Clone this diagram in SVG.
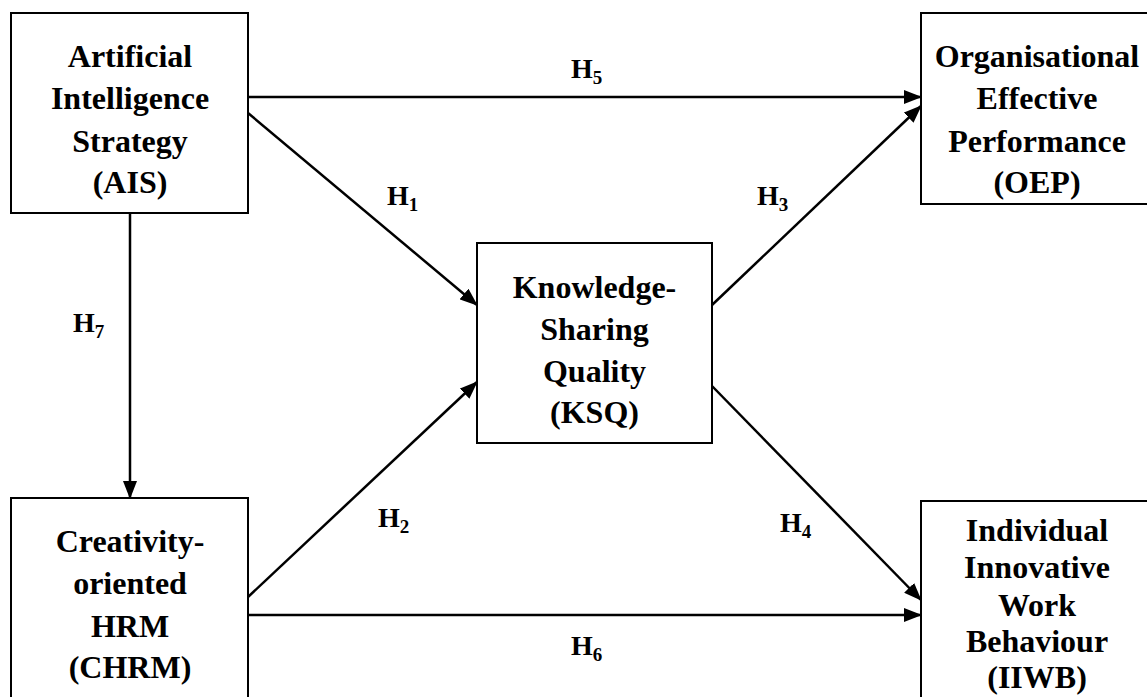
<svg xmlns="http://www.w3.org/2000/svg" width="1147" height="697" viewBox="0 0 1147 697">
  <style>
    .box { fill: #fff; stroke: #000; stroke-width: 2; }
    .lbl { font-weight: 700; font-size: 32px; fill: #000; text-anchor: middle; }
    .hyp { font-weight: 700; font-size: 28px; fill: #000; }
    .sub { font-size: 19px; }
    .edge { stroke: #000; stroke-width: 2.5; fill: none; marker-end: url(#arrow); }
  </style>
  <defs>
    <marker id="arrow" markerUnits="userSpaceOnUse" markerWidth="18" markerHeight="14" refX="17" refY="7" orient="auto">
      <path d="M0,0 L18,7 L0,14 Z" fill="#000"/>
    </marker>
  </defs>
  <rect width="1147" height="697" fill="#fff"/>

  <!-- connectors -->
  <g id="connectors">
    <line class="edge" x1="248" y1="97" x2="921" y2="97"/>
    <line class="edge" x1="248" y1="113" x2="477" y2="305"/>
    <line class="edge" x1="248" y1="597" x2="477" y2="382"/>
    <line class="edge" x1="712" y1="305" x2="921" y2="106"/>
    <line class="edge" x1="712" y1="386" x2="921" y2="600"/>
    <line class="edge" x1="248" y1="615" x2="921" y2="615"/>
    <line class="edge" x1="130" y1="213" x2="130" y2="498"/>
  </g>

  <!-- hypothesis labels -->
  <g id="labels" font-family="Liberation Serif, serif">
    <text class="hyp" x="571" y="78">H<tspan class="sub" dy="6">5</tspan></text>
    <text class="hyp" x="387" y="205">H<tspan class="sub" dy="6">1</tspan></text>
    <text class="hyp" x="757" y="205">H<tspan class="sub" dy="6">3</tspan></text>
    <text class="hyp" x="73" y="332">H<tspan class="sub" dy="6">7</tspan></text>
    <text class="hyp" x="378" y="527">H<tspan class="sub" dy="6">2</tspan></text>
    <text class="hyp" x="780" y="532">H<tspan class="sub" dy="6">4</tspan></text>
    <text class="hyp" x="571" y="655">H<tspan class="sub" dy="6">6</tspan></text>
  </g>

  <!-- nodes -->
  <g id="ais" font-family="Liberation Serif, serif">
    <rect class="box" x="11" y="13" width="237" height="200"/>
    <text class="lbl" x="130" y="67">Artificial</text>
    <text class="lbl" x="130" y="109">Intelligence</text>
    <text class="lbl" x="130" y="152">Strategy</text>
    <text class="lbl" x="130" y="193">(AIS)</text>
  </g>
  <g id="oep" font-family="Liberation Serif, serif">
    <rect class="box" x="921" y="13" width="240" height="191"/>
    <text class="lbl" x="1037" y="67">Organisational</text>
    <text class="lbl" x="1037" y="109">Effective</text>
    <text class="lbl" x="1037" y="152">Performance</text>
    <text class="lbl" x="1037" y="193">(OEP)</text>
  </g>
  <g id="ksq" font-family="Liberation Serif, serif">
    <rect class="box" x="477" y="243" width="235" height="200"/>
    <text class="lbl" x="594.5" y="298">Knowledge-</text>
    <text class="lbl" x="594.5" y="340">Sharing</text>
    <text class="lbl" x="594.5" y="382">Quality</text>
    <text class="lbl" x="594.5" y="423">(KSQ)</text>
  </g>
  <g id="chrm" font-family="Liberation Serif, serif">
    <rect class="box" x="11" y="498" width="237" height="220"/>
    <text class="lbl" x="130" y="552">Creativity-</text>
    <text class="lbl" x="130" y="594">oriented</text>
    <text class="lbl" x="130" y="637">HRM</text>
    <text class="lbl" x="130" y="678">(CHRM)</text>
  </g>
  <g id="iiwb" font-family="Liberation Serif, serif">
    <rect class="box" x="921" y="501" width="240" height="220"/>
    <text class="lbl" x="1037" y="541">Individual</text>
    <text class="lbl" x="1037" y="578">Innovative</text>
    <text class="lbl" x="1037" y="616">Work</text>
    <text class="lbl" x="1037" y="652">Behaviour</text>
    <text class="lbl" x="1037" y="688">(IIWB)</text>
  </g>
</svg>
